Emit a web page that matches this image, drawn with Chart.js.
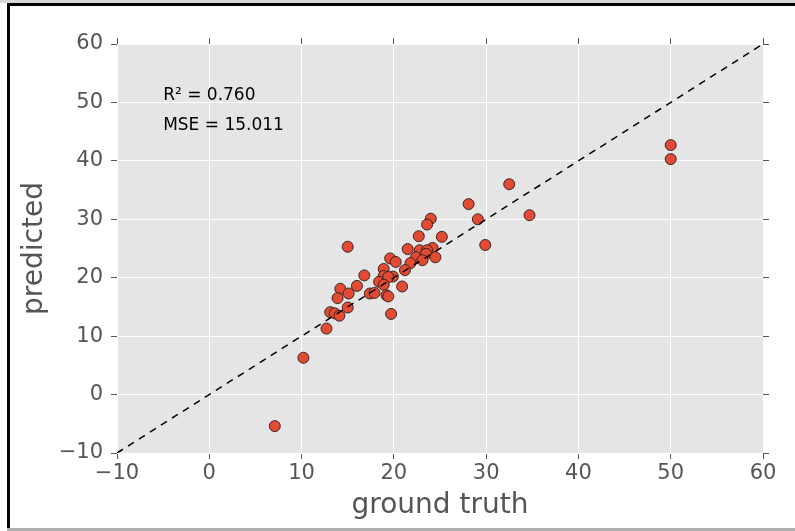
<!DOCTYPE html>
<html>
<head>
<meta charset="utf-8">
<script src="https://cdn.jsdelivr.net/npm/chart.js@4/dist/chart.umd.min.js"></script>
<style>
  body { margin: 0; background: #fff; }
  #wrap { position: relative; width: 795px; height: 531px; overflow: hidden; }
  .edge { position: absolute; pointer-events: none; }
</style>
</head>
<body>
<div id="wrap">
  <canvas id="chart1" width="795" height="531"></canvas>
  <div class="edge" style="left:0;top:0;width:795px;height:3px;background:#d8d8d8"></div>
  <div class="edge" style="left:7px;top:3px;width:788px;height:3px;background:#000"></div>
  <div class="edge" style="left:7px;top:3px;width:3px;height:528px;background:#000"></div>
  <div class="edge" style="left:7px;top:528px;width:788px;height:3px;background:#b0b0b0"></div>
</div>
<script>
// valeurs
var truthVals = [7.1, 10.2, 50.0, 50.0, 32.5, 28.1, 29.1, 34.7, 29.9, 24.0,
                 23.6, 22.7, 25.2, 15.0, 21.5, 22.8, 24.2, 23.6, 23.5, 22.4,
                 24.5, 23.1, 19.6, 20.2, 21.8, 21.2, 18.9, 16.8, 18.9, 19.9,
                 19.4, 18.4, 18.9, 16.0, 14.2, 13.9, 15.1, 20.9, 17.4, 17.9,
                 19.2, 19.4, 15.0, 13.1, 13.6, 14.1, 19.7, 12.7];
var predVals  = [-5.4, 6.3, 42.7, 40.3, 36.0, 32.6, 30.0, 30.7, 25.6, 30.1,
                 29.1, 27.1, 27.0, 25.3, 24.9, 24.7, 25.1, 24.7, 24.1, 23.5,
                 23.5, 23.0, 23.3, 22.7, 22.5, 21.3, 21.5, 20.4, 20.3, 20.2,
                 20.1, 19.3, 18.8, 18.6, 18.1, 16.5, 17.3, 18.5, 17.3, 17.4,
                 17.0, 16.8, 14.9, 14.1, 13.9, 13.5, 13.8, 11.3];
var tickVals = [-10, 0, 10, 20, 30, 40, 50, 60];
var r2Text = "R\u00b2 = 0.760";
var mseText = "MSE = 15.011";

var points = [];
for (var i = 0; i < truthVals.length; i++) {
    points.push({x: truthVals[i], y: predVals[i]});
}
var diag = [{x: -10, y: -10}, {x: 60, y: 60}];

function tickLabel(v){
    return v < 0 ? "\u2212" + Math.abs(v) : "" + v;
}

var fontName = "'DejaVu Sans', sans-serif";
var tickColor = "#555555";

function axisX(pos, h, showLabels){
    return {
        type: 'linear', position: pos, min: -10, max: 60,
        afterBuildTicks: function(s){ s.ticks = tickVals.map(function(v){ return {value: v}; }); },
        afterFit: function(s){ s.height = h; },
        border: {display: false},
        grid: {color: '#ffffff', lineWidth: 1, tickColor: tickColor, tickLength: 6, drawOnChartArea: showLabels},
        ticks: {display: showLabels, color: tickColor, font: {family: fontName, size: 21}, padding: 2, callback: tickLabel, maxRotation: 0},
        title: {display: showLabels, text: 'ground truth', color: tickColor, font: {family: fontName, size: 28}, padding: {top: 0, bottom: 8}}
    };
}
function axisY(pos, w, showLabels){
    return {
        type: 'linear', position: pos, min: -10, max: 60,
        afterBuildTicks: function(s){ s.ticks = tickVals.map(function(v){ return {value: v}; }); },
        afterFit: function(s){ s.width = w; },
        border: {display: false},
        grid: {color: '#ffffff', lineWidth: 1, tickColor: tickColor, tickLength: 6, drawOnChartArea: showLabels},
        ticks: {display: showLabels, color: tickColor, font: {family: fontName, size: 21}, padding: 8, callback: tickLabel},
        title: {display: showLabels, text: 'predicted', color: tickColor, font: {family: fontName, size: 28}, padding: {top: 18, bottom: 0}}
    };
}

// fond gris + textes R2 / MSE
var plotDeco = {
    id: 'plotDeco',
    beforeDraw: function(chart){
        var a = chart.chartArea, c = chart.ctx;
        c.save();
        c.fillStyle = '#e5e5e5';
        c.fillRect(a.left, a.top, a.right - a.left, a.bottom - a.top);
        c.restore();
    },
    afterDraw: function(chart){
        var c = chart.ctx, sx = chart.scales.x, sy = chart.scales.y;
        c.save();
        c.fillStyle = '#000';
        c.font = "17px " + fontName;
        c.textBaseline = 'middle';
        c.textAlign = 'left';
        c.fillText(r2Text, sx.getPixelForValue(-5), sy.getPixelForValue(51.1));
        c.fillText(mseText, sx.getPixelForValue(-5), sy.getPixelForValue(46.0));
        c.restore();
    }
};

var ctx = document.getElementById('chart1').getContext('2d');
var myChart = new Chart(ctx, {
    type: 'scatter',
    data: {
        datasets: [{
            type: 'line',
            data: diag,
            borderColor: '#000000',
            borderWidth: 1.5,
            borderDash: [7, 6],
            pointRadius: 0,
            fill: false,
            order: 0,
            xAxisID: 'x', yAxisID: 'y'
        }, {
            data: points,
            backgroundColor: '#e24a33',
            borderColor: 'rgba(40,30,30,0.9)',
            borderWidth: 1,
            pointRadius: 5.5,
            order: 1,
            xAxisID: 'x', yAxisID: 'y'
        }]
    },
    options: {
        responsive: false,
        animation: false,
        layout: {padding: 0},
        plugins: {legend: {display: false}, tooltip: {enabled: false}},
        scales: {
            x: axisX('bottom', 78, true),
            x2: axisX('top', 44, false),
            y: axisY('left', 117, true),
            y2: axisY('right', 32, false)
        }
    },
    plugins: [plotDeco]
});
</script>
</body>
</html>
